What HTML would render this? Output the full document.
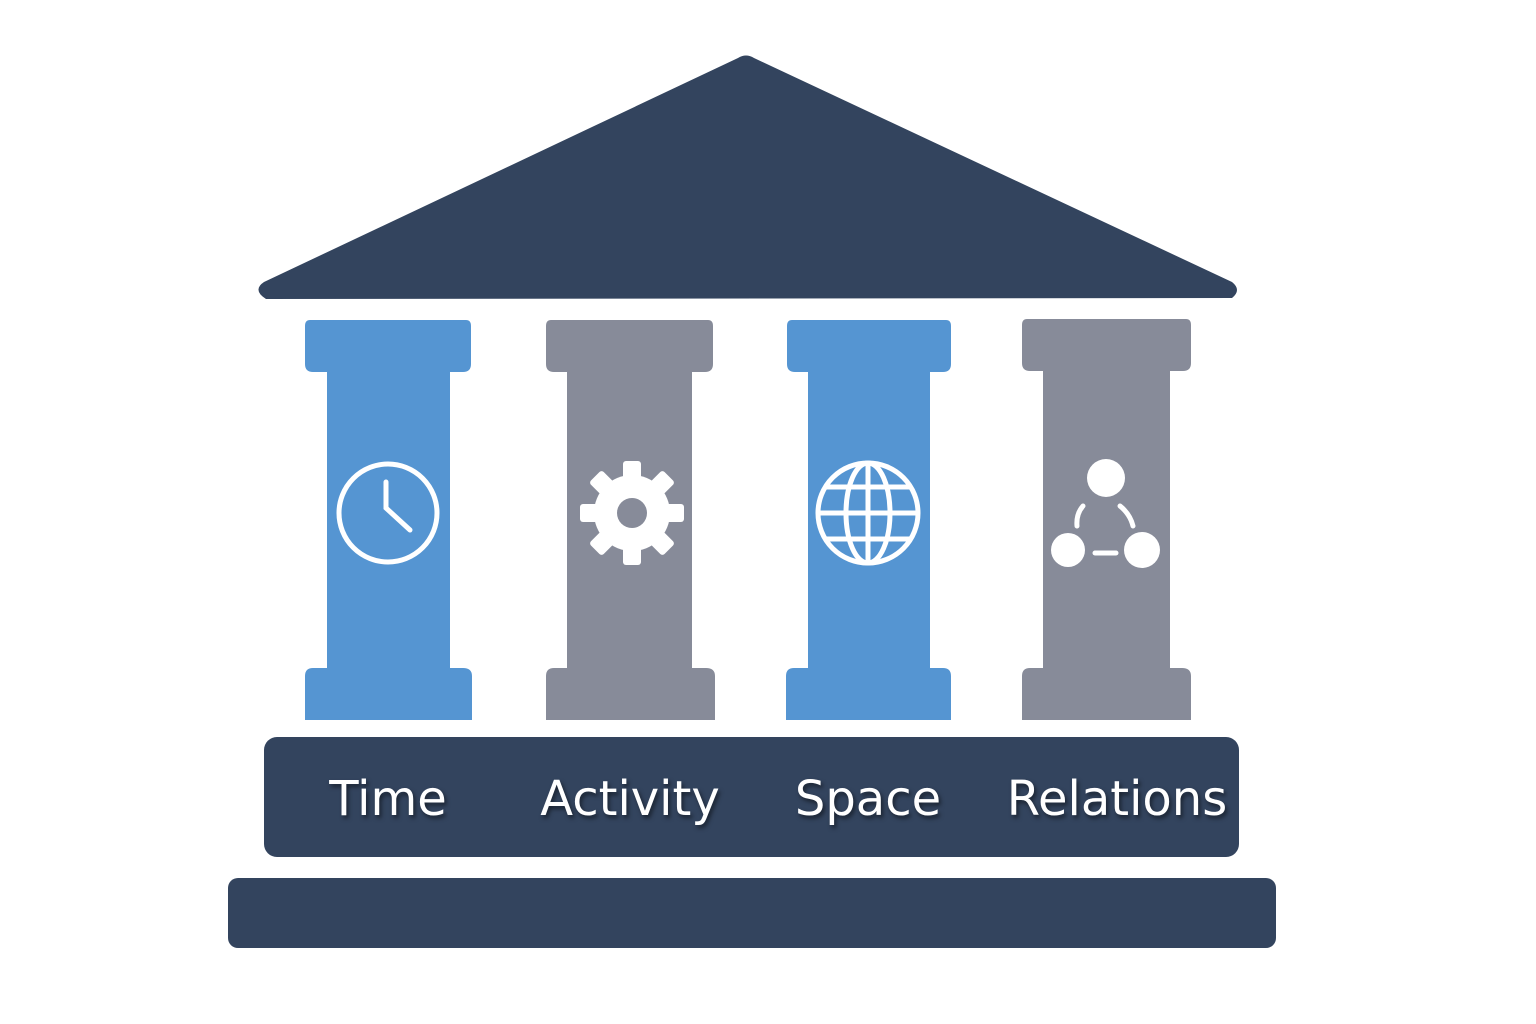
<!DOCTYPE html>
<html><head><meta charset="utf-8"><style>html,body{margin:0;padding:0;background:#fff}svg{display:block}</style></head>
<body>
<svg width="1536" height="1024" viewBox="0 0 1536 1024" xmlns="http://www.w3.org/2000/svg">
<path d="M738,58 Q746,53 754,58 L1232,282 Q1242,290 1232,298 L266,299 Q252,290 264,282 Z" fill="#33445e"/>
<g fill="#5595d2">
<path d="M310,320 H466 Q471,320 471,326 V364 Q471,372 463,372 H450 V668 H463 Q472,668 472,676 V720 H305 V676 Q305,668 313,668 H327 V372 H313 Q305,372 305,364 V326 Q305,320 310,320 Z"/>
<path d="M792,320 H946 Q951,320 951,326 V364 Q951,372 943,372 H930 V668 H943 Q951,668 951,676 V720 H786 V676 Q786,668 794,668 H808 V372 H795 Q787,372 787,364 V326 Q787,320 792,320 Z"/>
</g>
<g fill="#878b99">
<path d="M551,320 H708 Q713,320 713,326 V364 Q713,372 705,372 H692 V668 H706 Q715,668 715,676 V720 H546 V676 Q546,668 554,668 H567 V372 H554 Q546,372 546,364 V326 Q546,320 551,320 Z"/>
<path d="M1027,319 H1186 Q1191,319 1191,325 V363 Q1191,371 1183,371 H1170 V668 H1182 Q1191,668 1191,676 V720 H1022 V676 Q1022,668 1030,668 H1043 V371 H1030 Q1022,371 1022,363 V325 Q1022,319 1027,319 Z"/>
</g>
<g fill="none" stroke="#fff" stroke-width="5" stroke-linecap="round">
<circle cx="388" cy="513" r="49"/>
<path d="M386,482 V508 L410,530"/>
</g>
<g fill="#fff">
<circle cx="632" cy="513" r="38"/>
<rect x="623" y="461" width="18" height="18" rx="3"/>
<rect x="623" y="547" width="18" height="18" rx="3"/>
<rect x="580" y="504" width="18" height="18" rx="3"/>
<rect x="666" y="504" width="18" height="18" rx="3"/>
<rect x="623" y="461" width="18" height="18" rx="3" transform="rotate(45 632 513)"/>
<rect x="623" y="461" width="18" height="18" rx="3" transform="rotate(-45 632 513)"/>
<rect x="623" y="547" width="18" height="18" rx="3" transform="rotate(45 632 513)"/>
<rect x="623" y="547" width="18" height="18" rx="3" transform="rotate(-45 632 513)"/>
<circle cx="632" cy="513" r="15" fill="#878b99"/>
</g>
<g fill="none" stroke="#fff" stroke-width="5">
<circle cx="868" cy="513" r="50"/>
<ellipse cx="868" cy="513" rx="22" ry="50"/>
<line x1="868" y1="463" x2="868" y2="563"/>
<line x1="818" y1="513" x2="918" y2="513"/>
<path d="M826,487 H910 M826,539 H910"/>
</g>
<g fill="#fff">
<circle cx="1106" cy="478" r="19"/>
<circle cx="1068" cy="550" r="17"/>
<circle cx="1142" cy="550" r="18"/>
</g>
<g fill="none" stroke="#fff" stroke-width="5" stroke-linecap="round">
<path d="M1083,506 Q1076,514 1077,526"/>
<path d="M1120,506 Q1130,514 1133,526"/>
<line x1="1095" y1="553" x2="1116" y2="553"/>
</g>
<rect x="264" y="737" width="975" height="120" rx="13" fill="#33445e"/>
<rect x="228" y="878" width="1048" height="70" rx="10" fill="#33445e"/>
<g font-family="DejaVu Sans, sans-serif" font-size="48" fill="#fff" text-anchor="middle" style="filter:drop-shadow(2px 3px 2px rgba(0,0,0,0.5))">
<text x="388" y="815">Time</text>
<text x="630" y="815">Activity</text>
<text x="868" y="815">Space</text>
<text x="1117" y="815">Relations</text>
</g>
</svg>
</body></html>
